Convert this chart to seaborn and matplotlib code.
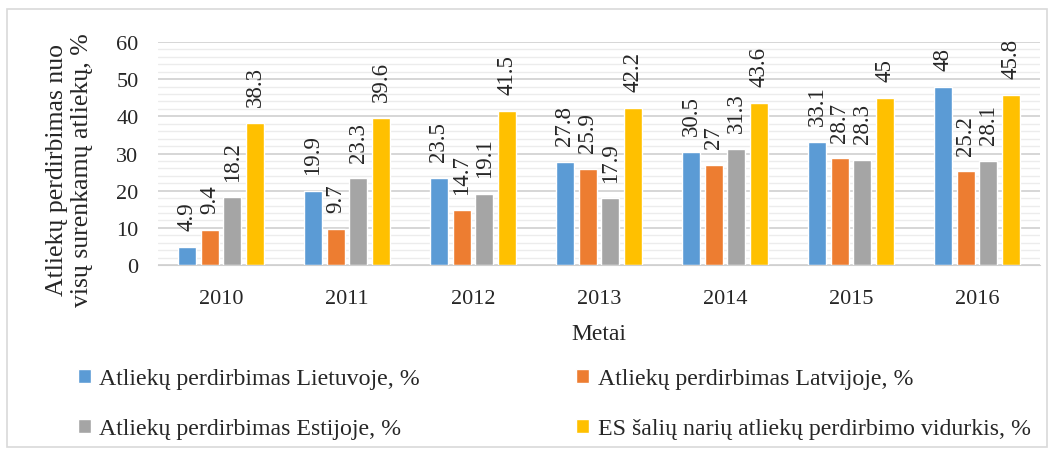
import numpy as np
import pandas as pd
import seaborn as sns
import matplotlib.pyplot as plt
from matplotlib.patches import Rectangle
from matplotlib.ticker import MultipleLocator

years = ["2010", "2011", "2012", "2013", "2014", "2015", "2016"]
lietuva = [4.9, 19.9, 23.5, 27.8, 30.5, 33.1, 48]
latvija = [9.4, 9.7, 14.7, 25.9, 27, 28.7, 25.2]
estija = [18.2, 23.3, 19.1, 17.9, 31.3, 28.3, 28.1]
es_vidurkis = [38.3, 39.6, 41.5, 42.2, 43.6, 45, 45.8]

series_names = [
    "Atliekų perdirbimas Lietuvoje, %",
    "Atliekų perdirbimas Latvijoje, %",
    "Atliekų perdirbimas Estijoje, %",
    "ES šalių narių atliekų perdirbimo vidurkis, %",
]
colors = ["#5B9BD5", "#ED7D31", "#A5A5A5", "#FFC000"]

rows = []
for name, vals in zip(series_names, [lietuva, latvija, estija, es_vidurkis]):
    for y, v in zip(years, vals):
        rows.append({"Metai": y, "series": name, "value": v})
df = pd.DataFrame(rows)

sns.set_style("white")
plt.rcParams["font.family"] = ["Liberation Serif", "DejaVu Serif"]

fig = plt.figure(figsize=(10.56, 4.52), dpi=100)
ax = fig.add_axes([158 / 1056, 1 - 266 / 452, (1040 - 158) / 1056, (266 - 43) / 452])

sns.barplot(data=df, x="Metai", y="value", hue="series", palette=colors,
            width=0.72, gap=0.22, ax=ax, legend=True, saturation=1)

ax.set_ylim(0, 60)
ax.yaxis.set_major_locator(MultipleLocator(10))
ax.yaxis.set_minor_locator(MultipleLocator(2))
ax.grid(axis="y", which="major", color="#d0d0d0", lw=1.2, zorder=0)
ax.grid(axis="y", which="minor", color="#ececec", lw=1.0, zorder=0)
ax.set_axisbelow(True)
for s in ["top", "right", "left"]:
    ax.spines[s].set_visible(False)
ax.spines["bottom"].set_color("#d0d0d0")
ax.tick_params(axis="both", which="both", labelsize=16, length=0)
ax.tick_params(axis="x", pad=17)
ax.tick_params(axis="y", pad=14)
ax.set_xlabel("Metai", fontsize=17, labelpad=11)
ax.set_ylabel("Atliekų perdirbimas nuo\nvisų surenkamų atliekų, %", fontsize=18.5,
              linespacing=1.15)
ax.yaxis.set_label_coords(-0.074, 0.43)

# data labels above bars, rotated like in the original
for cont in ax.containers:
    labels = [f"{v:g}" for v in cont.datavalues]
    ax.bar_label(cont, labels=labels, rotation=90, padding=12, fontsize=16.5)

handles, labs = ax.get_legend_handles_labels()
ax.get_legend().remove()
order = [0, 2, 1, 3]
fig.legend([handles[i] for i in order], [labs[i] for i in order],
           loc="upper left", bbox_to_anchor=(56 / 1056, 1 - 348 / 452),
           ncol=2, frameon=False, fontsize=17.2, handlelength=0.55, handleheight=0.55,
           handletextpad=0.35, columnspacing=6.55, labelspacing=1.2)

fig.patches.append(Rectangle((7 / 1056, 4 / 452), 1040 / 1056, 438 / 452,
                             transform=fig.transFigure, fill=False,
                             edgecolor="#d9d9d9", lw=1.2))

fig.savefig("out.png", dpi=100)
